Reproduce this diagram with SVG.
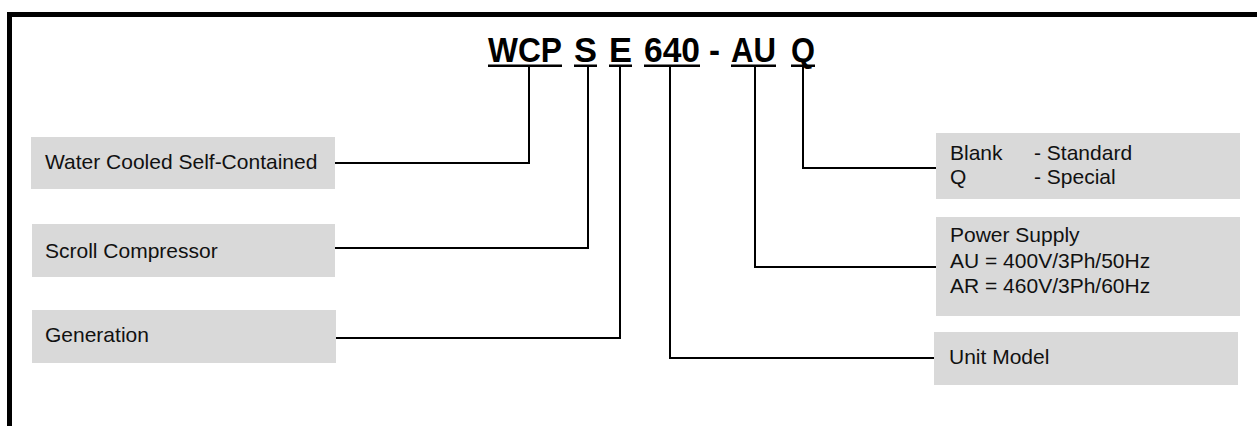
<svg xmlns="http://www.w3.org/2000/svg" width="1257" height="426" viewBox="0 0 1257 426">
<style>
.box{fill:#d9d9d9}
.lbl{font-family:"Liberation Sans",Arial,sans-serif;font-size:21px;fill:#111}
.ttl{font-family:"Liberation Sans",Arial,sans-serif;font-size:35px;font-weight:bold;fill:#000}
.ul{fill:#000}
.con{fill:none;stroke:#000;stroke-width:2}
</style>
<rect width="1257" height="426" fill="#fff"/>
<path d="M9.5,430 V14.5 H1262" fill="none" stroke="#000" stroke-width="5"/>
<g id="title">
<text class="ttl" x="488" y="62" textLength="74" lengthAdjust="spacingAndGlyphs">WCP</text>
<text class="ttl" x="574" y="62" textLength="23" lengthAdjust="spacingAndGlyphs">S</text>
<text class="ttl" x="609" y="62" textLength="23" lengthAdjust="spacingAndGlyphs">E</text>
<text class="ttl" x="644" y="62" textLength="56" lengthAdjust="spacingAndGlyphs">640</text>
<text class="ttl" x="709" y="62" textLength="11" lengthAdjust="spacingAndGlyphs">-</text>
<text class="ttl" x="731" y="62" textLength="45" lengthAdjust="spacingAndGlyphs">AU</text>
<text class="ttl" x="791" y="62" textLength="24" lengthAdjust="spacingAndGlyphs">Q</text>
<rect class="ul" x="488" y="64.5" width="74" height="2.5"/>
<rect class="ul" x="574" y="64.5" width="23" height="2.5"/>
<rect class="ul" x="609" y="64.5" width="23" height="2.5"/>
<rect class="ul" x="644" y="64.5" width="56" height="2.5"/>
<rect class="ul" x="731" y="64.5" width="45" height="2.5"/>
<rect class="ul" x="791" y="64.5" width="24" height="2.5"/>
</g>
<g id="connectors">
<path class="con" d="M529,67 V163 H335"/>
<path class="con" d="M588,67 V248 H335"/>
<path class="con" d="M620,67 V338 H336"/>
<path class="con" d="M670,67 V358 H934"/>
<path class="con" d="M755,67 V267 H936"/>
<path class="con" d="M803,67 V168 H936"/>
</g>
<g id="node-wcp">
<rect class="box" x="31" y="137" width="304" height="52"/>
<text class="lbl" x="45" y="169">Water Cooled Self-Contained</text>
</g>
<g id="node-scroll">
<rect class="box" x="32" y="224" width="303" height="53"/>
<text class="lbl" x="45" y="258">Scroll Compressor</text>
</g>
<g id="node-generation">
<rect class="box" x="32" y="310" width="304" height="53"/>
<text class="lbl" x="45" y="342">Generation</text>
</g>
<g id="node-q">
<rect class="box" x="936" y="133" width="304" height="66"/>
<text class="lbl" x="950" y="160">Blank</text>
<text class="lbl" x="1034" y="160">- Standard</text>
<text class="lbl" x="950" y="184">Q</text>
<text class="lbl" x="1034" y="184">- Special</text>
</g>
<g id="node-power">
<rect class="box" x="936" y="217" width="304" height="99"/>
<text class="lbl" x="950" y="242">Power Supply</text>
<text class="lbl" x="950" y="268">AU = 400V/3Ph/50Hz</text>
<text class="lbl" x="950" y="293">AR = 460V/3Ph/60Hz</text>
</g>
<g id="node-unit">
<rect class="box" x="934" y="332" width="304" height="53"/>
<text class="lbl" x="949" y="364">Unit Model</text>
</g>
</svg>
